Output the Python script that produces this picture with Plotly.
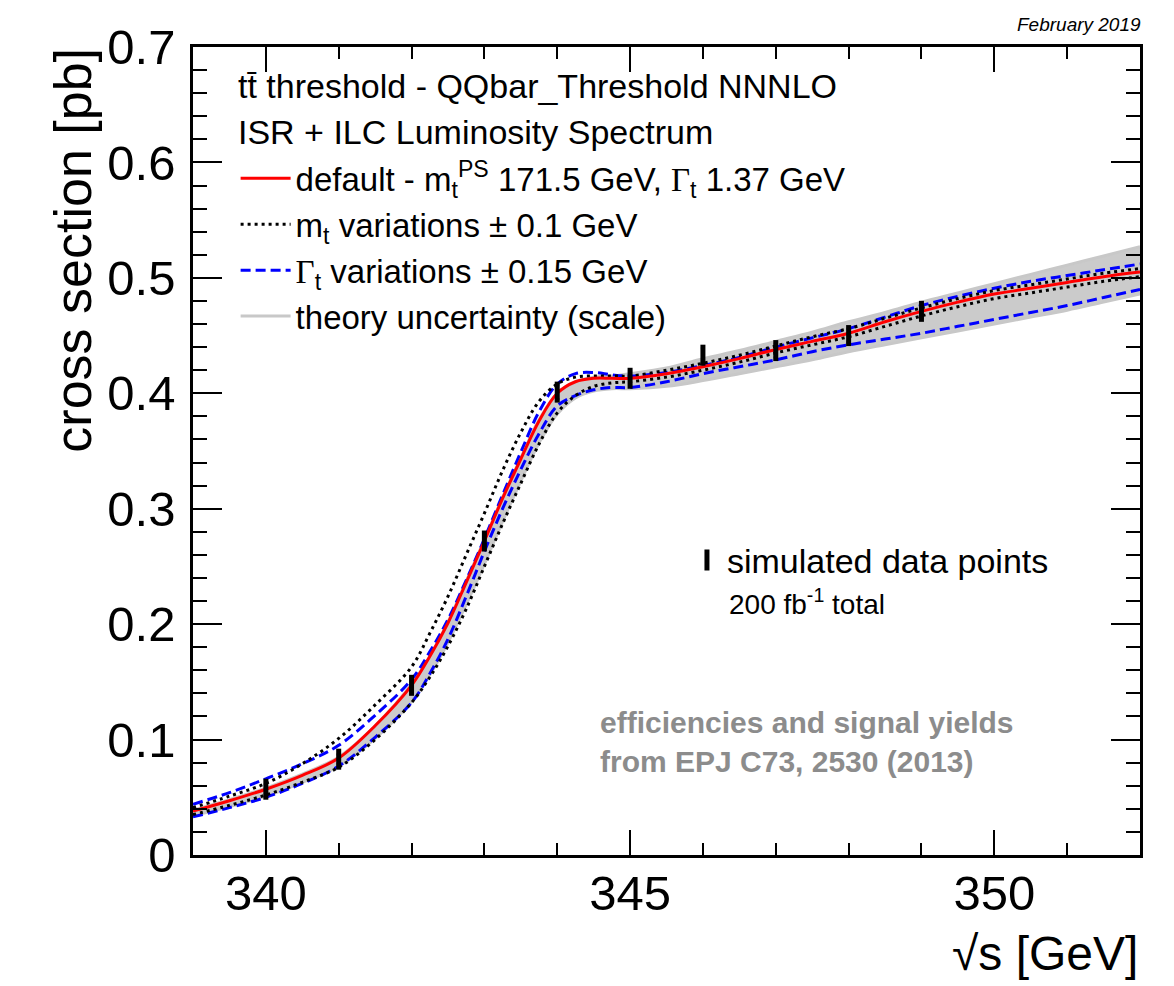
import plotly.graph_objects as go

# ---------------- data ----------------
sqrt_s = [339.0, 339.5, 340.0, 340.5, 341.0, 341.5, 342.0, 342.25, 342.5, 342.75,
          343.0, 343.25, 343.5, 343.75, 344.0, 344.25, 344.5, 344.75, 345.0, 345.5,
          346.0, 346.5, 347.0, 347.5, 348.0, 348.5, 349.0, 349.5, 350.0, 350.5,
          351.0, 351.5, 352.0]

default_xs = [0.038, 0.047, 0.057, 0.069, 0.084, 0.112, 0.147, 0.172, 0.201, 0.236,
              0.272, 0.309, 0.343, 0.376, 0.400, 0.410, 0.413, 0.413, 0.413, 0.417,
              0.423, 0.430, 0.438, 0.445, 0.452, 0.462, 0.471, 0.479, 0.486, 0.491,
              0.496, 0.501, 0.505]

mt_minus = [0.041, 0.051, 0.062, 0.079, 0.101, 0.130, 0.163, 0.192, 0.224, 0.260,
            0.296, 0.333, 0.366, 0.393, 0.408, 0.414, 0.415, 0.415, 0.415, 0.420,
            0.426, 0.433, 0.441, 0.449, 0.456, 0.465, 0.474, 0.482, 0.489, 0.494,
            0.499, 0.504, 0.508]

mt_plus = [0.035, 0.043, 0.052, 0.063, 0.076, 0.100, 0.132, 0.154, 0.181, 0.213,
           0.250, 0.287, 0.322, 0.356, 0.383, 0.398, 0.406, 0.409, 0.410, 0.414,
           0.420, 0.427, 0.435, 0.442, 0.449, 0.458, 0.467, 0.475, 0.482, 0.487,
           0.492, 0.497, 0.501]

width_up = [0.044, 0.054, 0.066, 0.079, 0.095, 0.121, 0.152, 0.176, 0.204, 0.238,
            0.274, 0.312, 0.349, 0.384, 0.408, 0.417, 0.418, 0.416, 0.415, 0.418,
            0.424, 0.431, 0.440, 0.448, 0.456, 0.466, 0.476, 0.484, 0.491, 0.497,
            0.502, 0.507, 0.512]

width_down = [0.033, 0.041, 0.050, 0.062, 0.077, 0.102, 0.132, 0.157, 0.187, 0.224,
              0.263, 0.300, 0.334, 0.365, 0.389, 0.398, 0.403, 0.405, 0.405, 0.410,
              0.417, 0.423, 0.429, 0.436, 0.442, 0.447, 0.452, 0.458, 0.464, 0.470,
              0.476, 0.483, 0.490]

scale_low = [0.034, 0.042, 0.051, 0.063, 0.077, 0.101, 0.133, 0.156, 0.184, 0.217,
             0.252, 0.289, 0.324, 0.357, 0.382, 0.396, 0.402, 0.404, 0.404, 0.406,
             0.411, 0.417, 0.423, 0.429, 0.436, 0.442, 0.448, 0.454, 0.460, 0.466,
             0.472, 0.479, 0.486]

scale_high = [0.039, 0.048, 0.058, 0.070, 0.085, 0.112, 0.148, 0.172, 0.202, 0.237,
              0.273, 0.310, 0.344, 0.377, 0.400, 0.410, 0.414, 0.415, 0.417, 0.422,
              0.430, 0.437, 0.445, 0.453, 0.462, 0.470, 0.479, 0.487, 0.495, 0.503,
              0.511, 0.519, 0.527]

data_x = [340, 341, 342, 343, 344, 345, 346, 347, 348, 349]
data_y = [0.057, 0.083, 0.147, 0.272, 0.401, 0.413, 0.433, 0.437, 0.450, 0.471]
data_err = [0.004, 0.004, 0.005, 0.006, 0.006, 0.006, 0.006, 0.006, 0.006, 0.006]

x_ticks = [340, 345, 350]
y_ticks = [0, 0.1, 0.2, 0.3, 0.4, 0.5, 0.6, 0.7]

header_lines = ["tt\u0304 threshold - QQbar_Threshold NNNLO",
                "ISR + ILC Luminosity Spectrum"]

FONT = "Liberation Sans, Arial, Helvetica, sans-serif"
GAMMA = '<span style="font-family:Liberation Serif, Times New Roman, serif">Γ</span>'

fig = go.Figure()

# theory uncertainty band
fig.add_trace(go.Scatter(
    x=sqrt_s, y=scale_low, mode="lines", line_shape="spline",
    line=dict(color="#c8c8c8", width=3),
    name="theory uncertainty (scale)", legendgroup="g4", legendrank=4,
    showlegend=True))
fig.add_trace(go.Scatter(
    x=sqrt_s, y=scale_high, mode="lines", line_shape="spline",
    line=dict(color="#c8c8c8", width=3),
    fill="tonexty", fillcolor="#cbcbcb", showlegend=False, hoverinfo="skip"))

# width variations
fig.add_trace(go.Scatter(
    x=sqrt_s, y=width_up, mode="lines", line_shape="spline",
    line=dict(color="#0000ff", width=3, dash="10px,5px"),
    name=GAMMA + "<sub>t</sub> variations ± 0.15 GeV", legendgroup="g3", legendrank=3))
fig.add_trace(go.Scatter(
    x=sqrt_s, y=width_down, mode="lines", line_shape="spline",
    line=dict(color="#0000ff", width=3, dash="10px,5px"),
    showlegend=False))

# mass variations
fig.add_trace(go.Scatter(
    x=sqrt_s, y=mt_minus, mode="lines", line_shape="spline",
    line=dict(color="black", width=3, dash="3px,4px"),
    name="m<sub>t</sub> variations ± 0.1 GeV", legendgroup="g2", legendrank=2))
fig.add_trace(go.Scatter(
    x=sqrt_s, y=mt_plus, mode="lines", line_shape="spline",
    line=dict(color="black", width=3, dash="3px,4px"),
    showlegend=False))

# default
fig.add_trace(go.Scatter(
    x=sqrt_s, y=default_xs, mode="lines", line_shape="spline",
    line=dict(color="#ff0000", width=3),
    name="default - m<sub>t</sub><sup>PS</sup> 171.5 GeV, " + GAMMA + "<sub>t</sub> 1.37 GeV",
    legendgroup="g1", legendrank=1))

# simulated data points
fig.add_trace(go.Scatter(
    x=data_x, y=data_y, mode="markers",
    marker=dict(symbol="line-ns-open", size=15, color="black",
                line=dict(color="black", width=5)),
    error_y=dict(type="data", array=data_err, color="black", thickness=2, width=2),
    name="simulated data points", legend="legend2"))

fig.update_layout(
    width=1166, height=978,
    margin=dict(l=185, r=34, t=27, b=131),
    paper_bgcolor="white", plot_bgcolor="white",
    font=dict(family=FONT, color="black"),
    showlegend=True,
    legend=dict(
        x=0.045, y=0.872, xanchor="left", yanchor="top",
        bgcolor="rgba(0,0,0,0)", borderwidth=0,
        font=dict(size=33, family=FONT),
        traceorder="grouped", tracegroupgap=0, itemwidth=50,
    ),
    legend2=dict(
        x=0.5216, y=0.3646, xanchor="left", yanchor="middle",
        bgcolor="rgba(0,0,0,0)", borderwidth=0,
        font=dict(size=34, family=FONT), itemwidth=30,
    ),
)

fig.update_xaxes(
    range=[339, 352], tickvals=x_ticks, ticktext=[str(v) for v in x_ticks],
    ticks="inside", ticklen=25, tickwidth=2, tickcolor="black",
    minor=dict(dtick=1, tick0=339, ticks="inside", ticklen=12, tickwidth=2, tickcolor="black"),
    showline=True, linewidth=2.5, linecolor="black", mirror="allticks",
    showgrid=False, zeroline=False,
    tickfont=dict(size=49, family=FONT), ticklabelstandoff=-7,
)
fig.update_yaxes(
    range=[0, 0.7], tickvals=y_ticks, ticktext=["0" if v == 0 else f"{v:.1f}" for v in y_ticks],
    ticks="inside", ticklen=29, tickwidth=2, tickcolor="black",
    minor=dict(dtick=0.02, tick0=0, ticks="inside", ticklen=14, tickwidth=2, tickcolor="black"),
    showline=True, linewidth=2.5, linecolor="black", mirror="allticks",
    showgrid=False, zeroline=False,
    tickfont=dict(size=49, family=FONT), ticklabelstandoff=5,
)

annotations = [
    dict(text="cross section [pb]", textangle=-90, xref="paper", yref="paper",
         x=-0.1267, y=0.748, xanchor="center", yanchor="middle", showarrow=False,
         font=dict(size=52, family=FONT)),
    dict(text="√s [GeV]", xref="paper", yref="paper", x=1.0, y=-0.122,
         xanchor="right", yanchor="middle", showarrow=False,
         font=dict(size=48, family=FONT)),
    dict(text="<i>February 2019</i>", xref="paper", yref="paper", x=1.003, y=1.0,
         xanchor="right", yanchor="bottom", showarrow=False, yshift=10,
         font=dict(size=19, family=FONT)),
    dict(text="200 fb<sup>-1</sup> total", xref="paper", yref="paper",
         x=(727 - 193) / 947, y=(855 - 598) / 820, xanchor="left", yanchor="middle",
         showarrow=False, font=dict(size=28, family=FONT)),
    dict(text="<b>efficiencies and signal yields<br>from EPJ C73, 2530 (2013)</b>",
         xref="paper", yref="paper", x=(598 - 193) / 947, y=(855 - 740) / 820,
         xanchor="left", yanchor="middle", align="left", showarrow=False,
         font=dict(size=30, family=FONT, color="#8c8c8c")),
]
for i, line in enumerate(header_lines):
    annotations.append(dict(
        text=line, xref="paper", yref="paper",
        x=(236 - 193) / 947, y=(855 - (75 + 46 * i)) / 820,
        xanchor="left", yanchor="middle", showarrow=False,
        font=dict(size=34, family=FONT)))
fig.update_layout(annotations=annotations)

fig.write_html("out.html")
